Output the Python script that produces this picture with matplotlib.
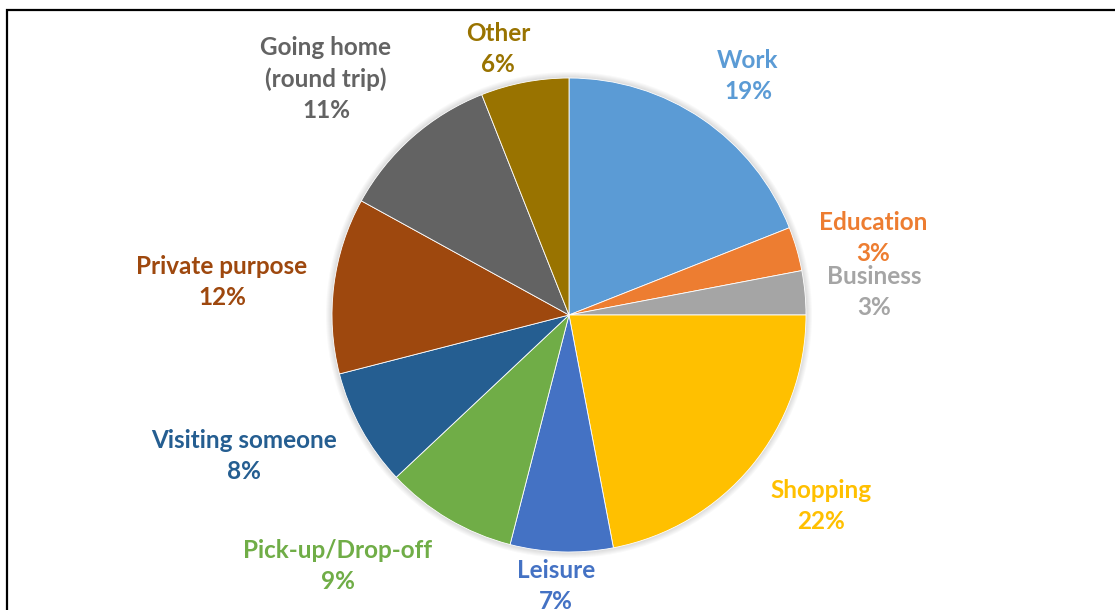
import matplotlib.pyplot as plt
from matplotlib.patches import Rectangle

purposes = ['Work', 'Education', 'Business', 'Shopping', 'Leisure',
            'Pick-up/Drop-off', 'Visiting someone', 'Private purpose',
            'Going home\n(round trip)', 'Other']
shares = [19, 3, 3, 22, 7, 9, 8, 12, 11, 6]
colors = ['#5B9BD5', '#ED7D31', '#A5A5A5', '#FFC000', '#4472C4',
          '#70AD47', '#255E91', '#9E480E', '#636363', '#997300']

# label anchor points in pixel coordinates (top-left origin)
label_xy = [(748, 76), (873, 238), (874, 292), (821, 506), (556, 586),
            (338, 566), (244, 456), (222, 282), (326, 79), (498, 49)]

W, H = 1115, 610
fig = plt.figure(figsize=(W / 100, H / 100), dpi=100)
ax = fig.add_axes([0, 0, 1, 1])
ax.set_xlim(0, W)
ax.set_ylim(0, H)
ax.set_aspect('equal')
ax.axis('off')

cx, cy, r = 569, H - 315, 237

# soft shadow behind the pie
for k in range(6):
    ax.add_patch(plt.Circle((cx, cy), r + 1 + k, color='black',
                            alpha=0.025, zorder=0, lw=0))

ax.pie(shares, colors=colors, startangle=90, counterclock=False,
       center=(cx, cy), radius=r, frame=True,
       wedgeprops=dict(edgecolor='white', linewidth=0.6))
ax.set_xlim(0, W)
ax.set_ylim(0, H)
ax.axis('off')

for name, val, col, (x, y) in zip(purposes, shares, colors, label_xy):
    ax.text(x, H - y, f'{name}\n{val}%', color=col, ha='center', va='center',
            fontsize=17.5, fontweight='bold', family='Lato', linespacing=1.45)

ax.add_patch(Rectangle((7, -20), W + 20, H - 10 + 20, fill=False,
                       edgecolor='black', linewidth=1.6, clip_on=False))

fig.savefig('out.png', dpi=100)
